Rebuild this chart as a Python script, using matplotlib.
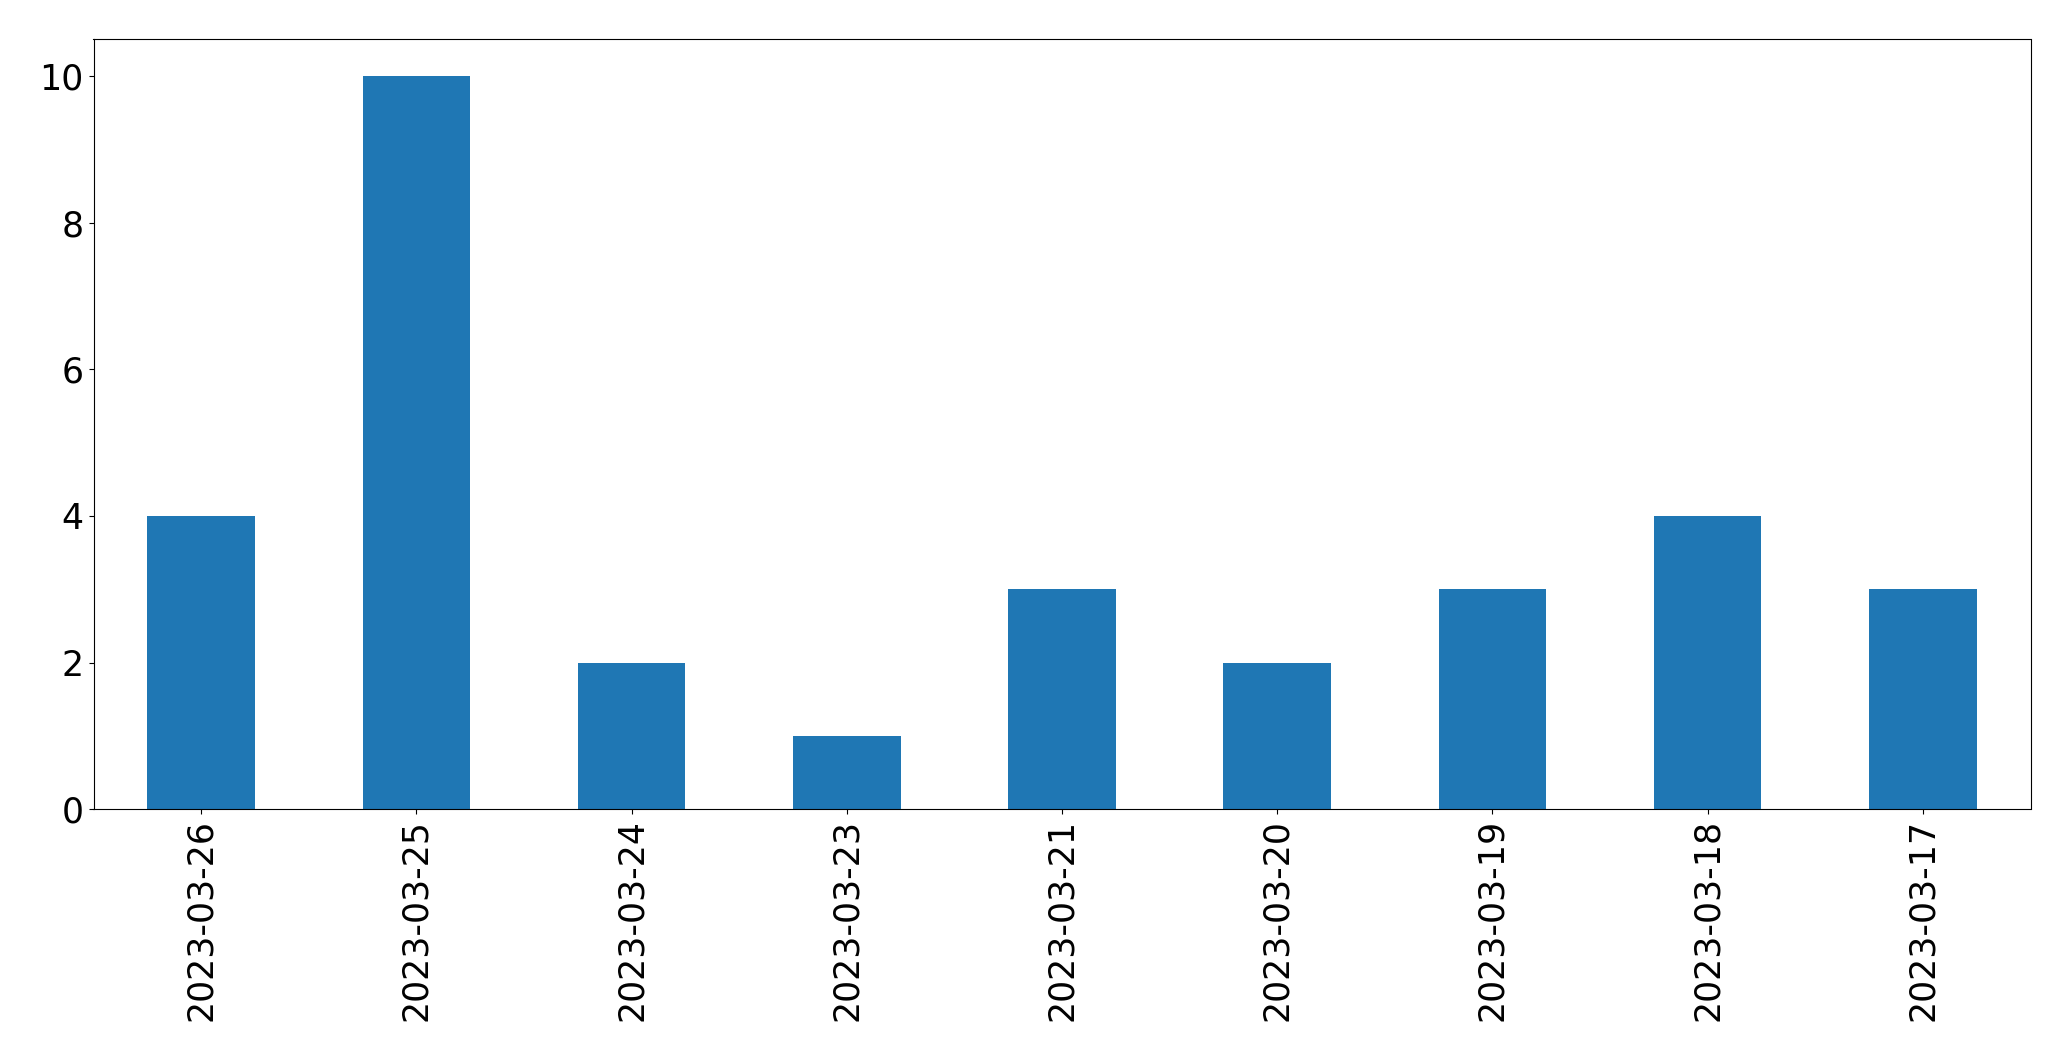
import matplotlib
matplotlib.use('Agg')
import matplotlib.pyplot as plt
import numpy as np

dates = ['2023-03-26', '2023-03-25', '2023-03-24', '2023-03-23', '2023-03-21',
         '2023-03-20', '2023-03-19', '2023-03-18', '2023-03-17']
counts = [4, 10, 2, 1, 3, 2, 3, 4, 3]

fig = plt.figure(figsize=(20.71, 10.61), dpi=100)
left, right, top, bottom = 93.5, 2030.5, 39.3, 809.3
ax = fig.add_axes([left / 2071, 1 - bottom / 1061, (right - left) / 2071, (bottom - top) / 1061])

x = np.arange(len(dates))
ax.bar(x, counts, width=0.5, color='#1f77b4')
ax.set_xticks(x)
ax.set_xticklabels(dates, rotation=90)
ax.set_xlim(-0.5, len(dates) - 0.5)
ax.set_ylim(0, 10.5)
ax.tick_params(labelsize=25)

fig.savefig('out.png', dpi=100)
